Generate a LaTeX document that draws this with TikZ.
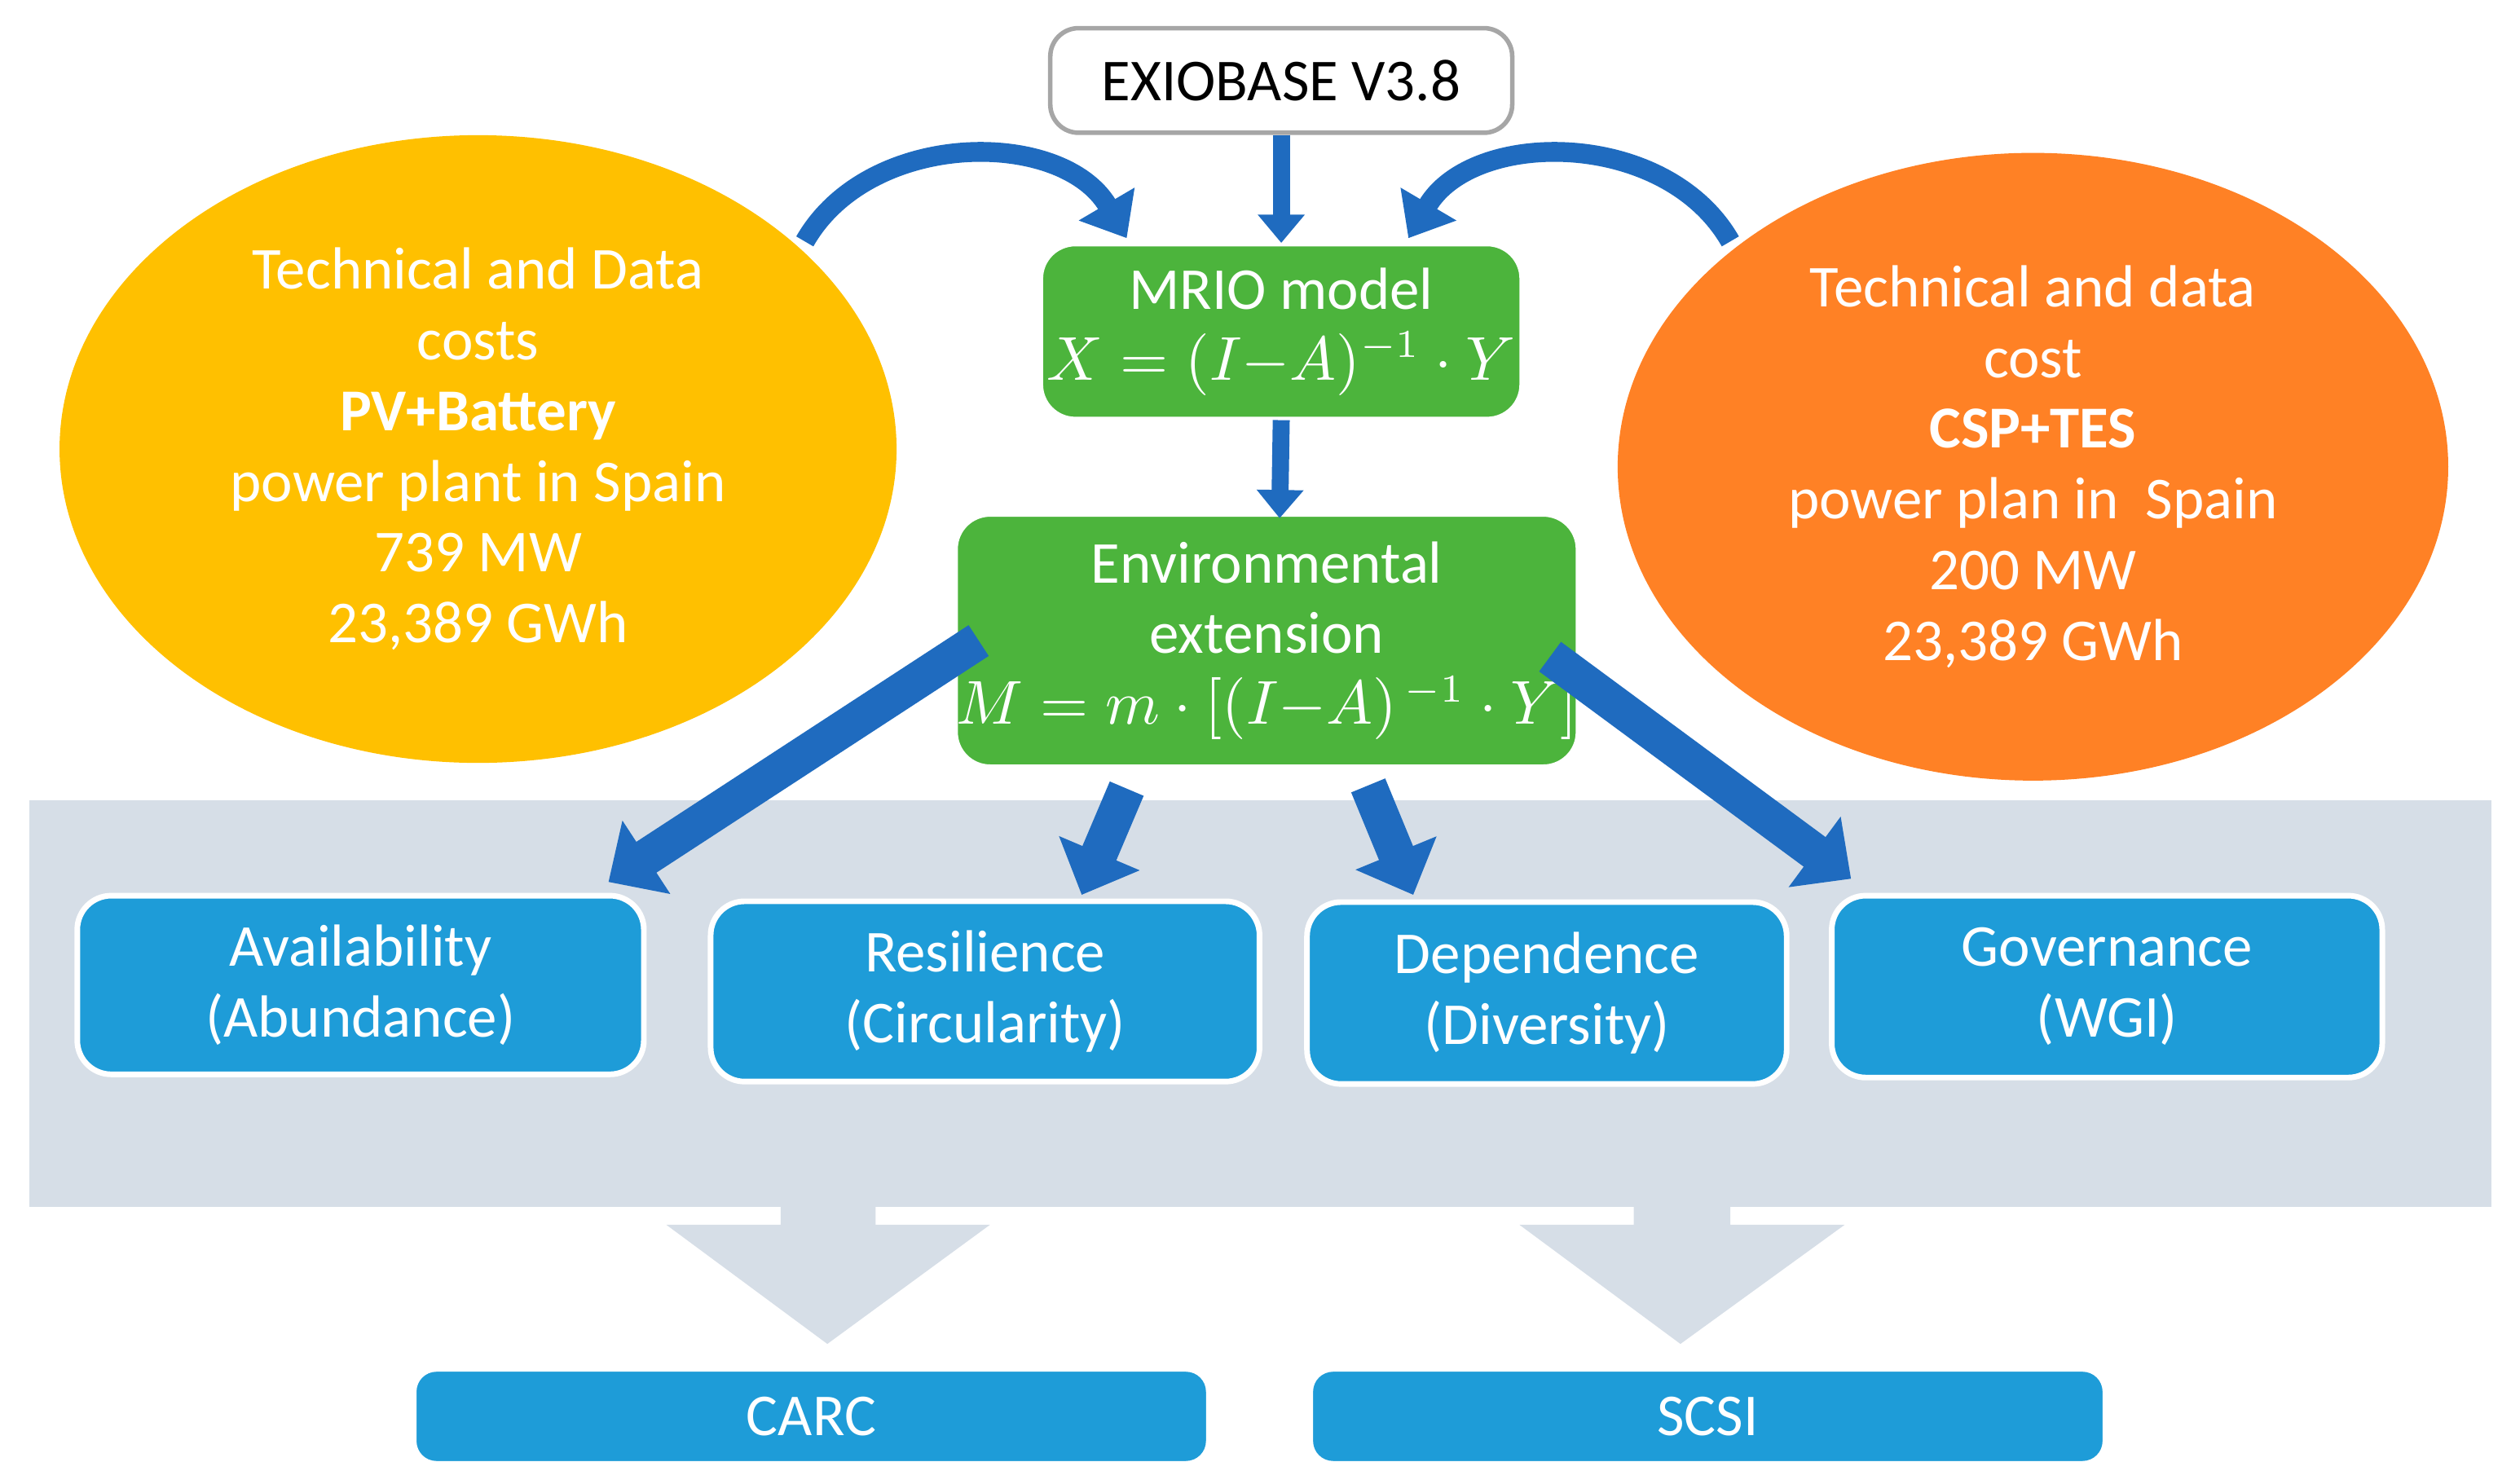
\documentclass[tikz,border=0pt]{standalone}
\usepackage{fontspec}
\setmainfont{Carlito}
\usetikzlibrary{arrows.meta}
\definecolor{gr}{HTML}{4CB43C}
\definecolor{bl}{HTML}{1E9CD8}
\definecolor{ar}{HTML}{1F6BBF}
\definecolor{band}{HTML}{D6DEE7}
\definecolor{yel}{HTML}{FFC000}
\definecolor{org}{HTML}{FF8125}
\tikzset{
 txt/.style={text=white,font=\fontsize{10.5}{12.5}\selectfont,align=center},
 gbox/.style={txt,fill=gr,draw=white,line width=0.6pt,rounded corners=6pt,inner sep=0pt},
 bbox/.style={txt,fill=bl,draw=white,line width=1pt,rounded corners=6pt,inner sep=0pt},
 thin/.style={draw=ar,line width=3pt,-{Triangle[width=8pt,length=5pt]}},
 thick/.style={draw=ar,line width=6.5pt,-{Triangle[width=15pt,length=8pt]}},
 chev/.style={fill=band,draw=none}
}
\begin{document}
\begin{tikzpicture}[x=0.01cm,y=-0.01cm]
\useasboundingbox (0,0) rectangle (1560,922);
\fill[band] (18,497) rectangle (1548,750);
\fill[chev] (485,745)--(544,745)--(544,761)--(615,761)--(514,835)--(414,761)--(485,761)--cycle;
\fill[chev] (1015,745)--(1075,745)--(1075,761)--(1146,761)--(1044,835)--(944,761)--(1015,761)--cycle;
\fill[yel] (297,279) ellipse [x radius=260,y radius=195];
\fill[org] (1263,290) ellipse [x radius=258,y radius=195];
\node[txt] (pv) at (297,279) {Technical and Data\\costs\\\textbf{PV+Battery}\\power plant in Spain\\739 MW\\23,389 GWh};
\node[txt] (csp) at (1263,290) {Technical and data\\cost\\\textbf{CSP+TES}\\power plan in\ \ Spain\\200 MW\\23,389 GWh};
\node[txt,text=black,fill=white,draw=gray!70,rounded corners=5pt,minimum width=287*0.01cm,minimum height=65*0.01cm,line width=0.8pt] (exio) at (796,50) {EXIOBASE V3.8};
\node[gbox,minimum width=298*0.01cm,minimum height=108*0.01cm] (mrio) at (796,206) {MRIO model\\$X = (I{-}A)^{-1}\cdot Y$};
\node[gbox,minimum width=351*0.01cm,minimum height=156*0.01cm] (env) at (787,398) {Environmental\\extension\\$M = m\cdot[(I{-}A)^{\,-1}\cdot Y]$};
\node[bbox,minimum width=352*0.01cm,minimum height=111*0.01cm] (av) at (224,612) {Availability\\(Abundance)};
\node[bbox,minimum width=341*0.01cm,minimum height=112*0.01cm] (re) at (612,616) {Resilience\\(Circularity)};
\node[bbox,minimum width=298*0.01cm,minimum height=113*0.01cm] (de) at (961,617) {Dependence\\(Diversity)};
\node[bbox,minimum width=342*0.01cm,minimum height=113*0.01cm] (go) at (1309,613) {Governance\\(WGI)};
\node[bbox,minimum width=494*0.01cm,minimum height=59*0.01cm,rounded corners=4pt] (carc) at (504,880) {CARC};
\node[bbox,minimum width=494*0.01cm,minimum height=59*0.01cm,rounded corners=4pt] (scsi) at (1061,880) {SCSI};
\draw[thin] (exio.south) -- (mrio.north);
\draw[thin] (mrio.south) -- (795,322);
\draw[draw=ar,line width=3.5pt,-{Triangle[width=11pt,length=7pt]}] (500,150) .. controls (540,80) and (660,80) .. (700,148);
\draw[draw=ar,line width=3.5pt,-{Triangle[width=11pt,length=7pt]}] (1075,150) .. controls (1035,80) and (915,80) .. (875,148);
\draw[thick] (608,398) -- (378,548);
\draw[thick] (700,490) -- (672,556);
\draw[thick] (850,488) -- (878,556);
\draw[thick] (963,408) -- (1150,546);
\end{tikzpicture}
\end{document}
